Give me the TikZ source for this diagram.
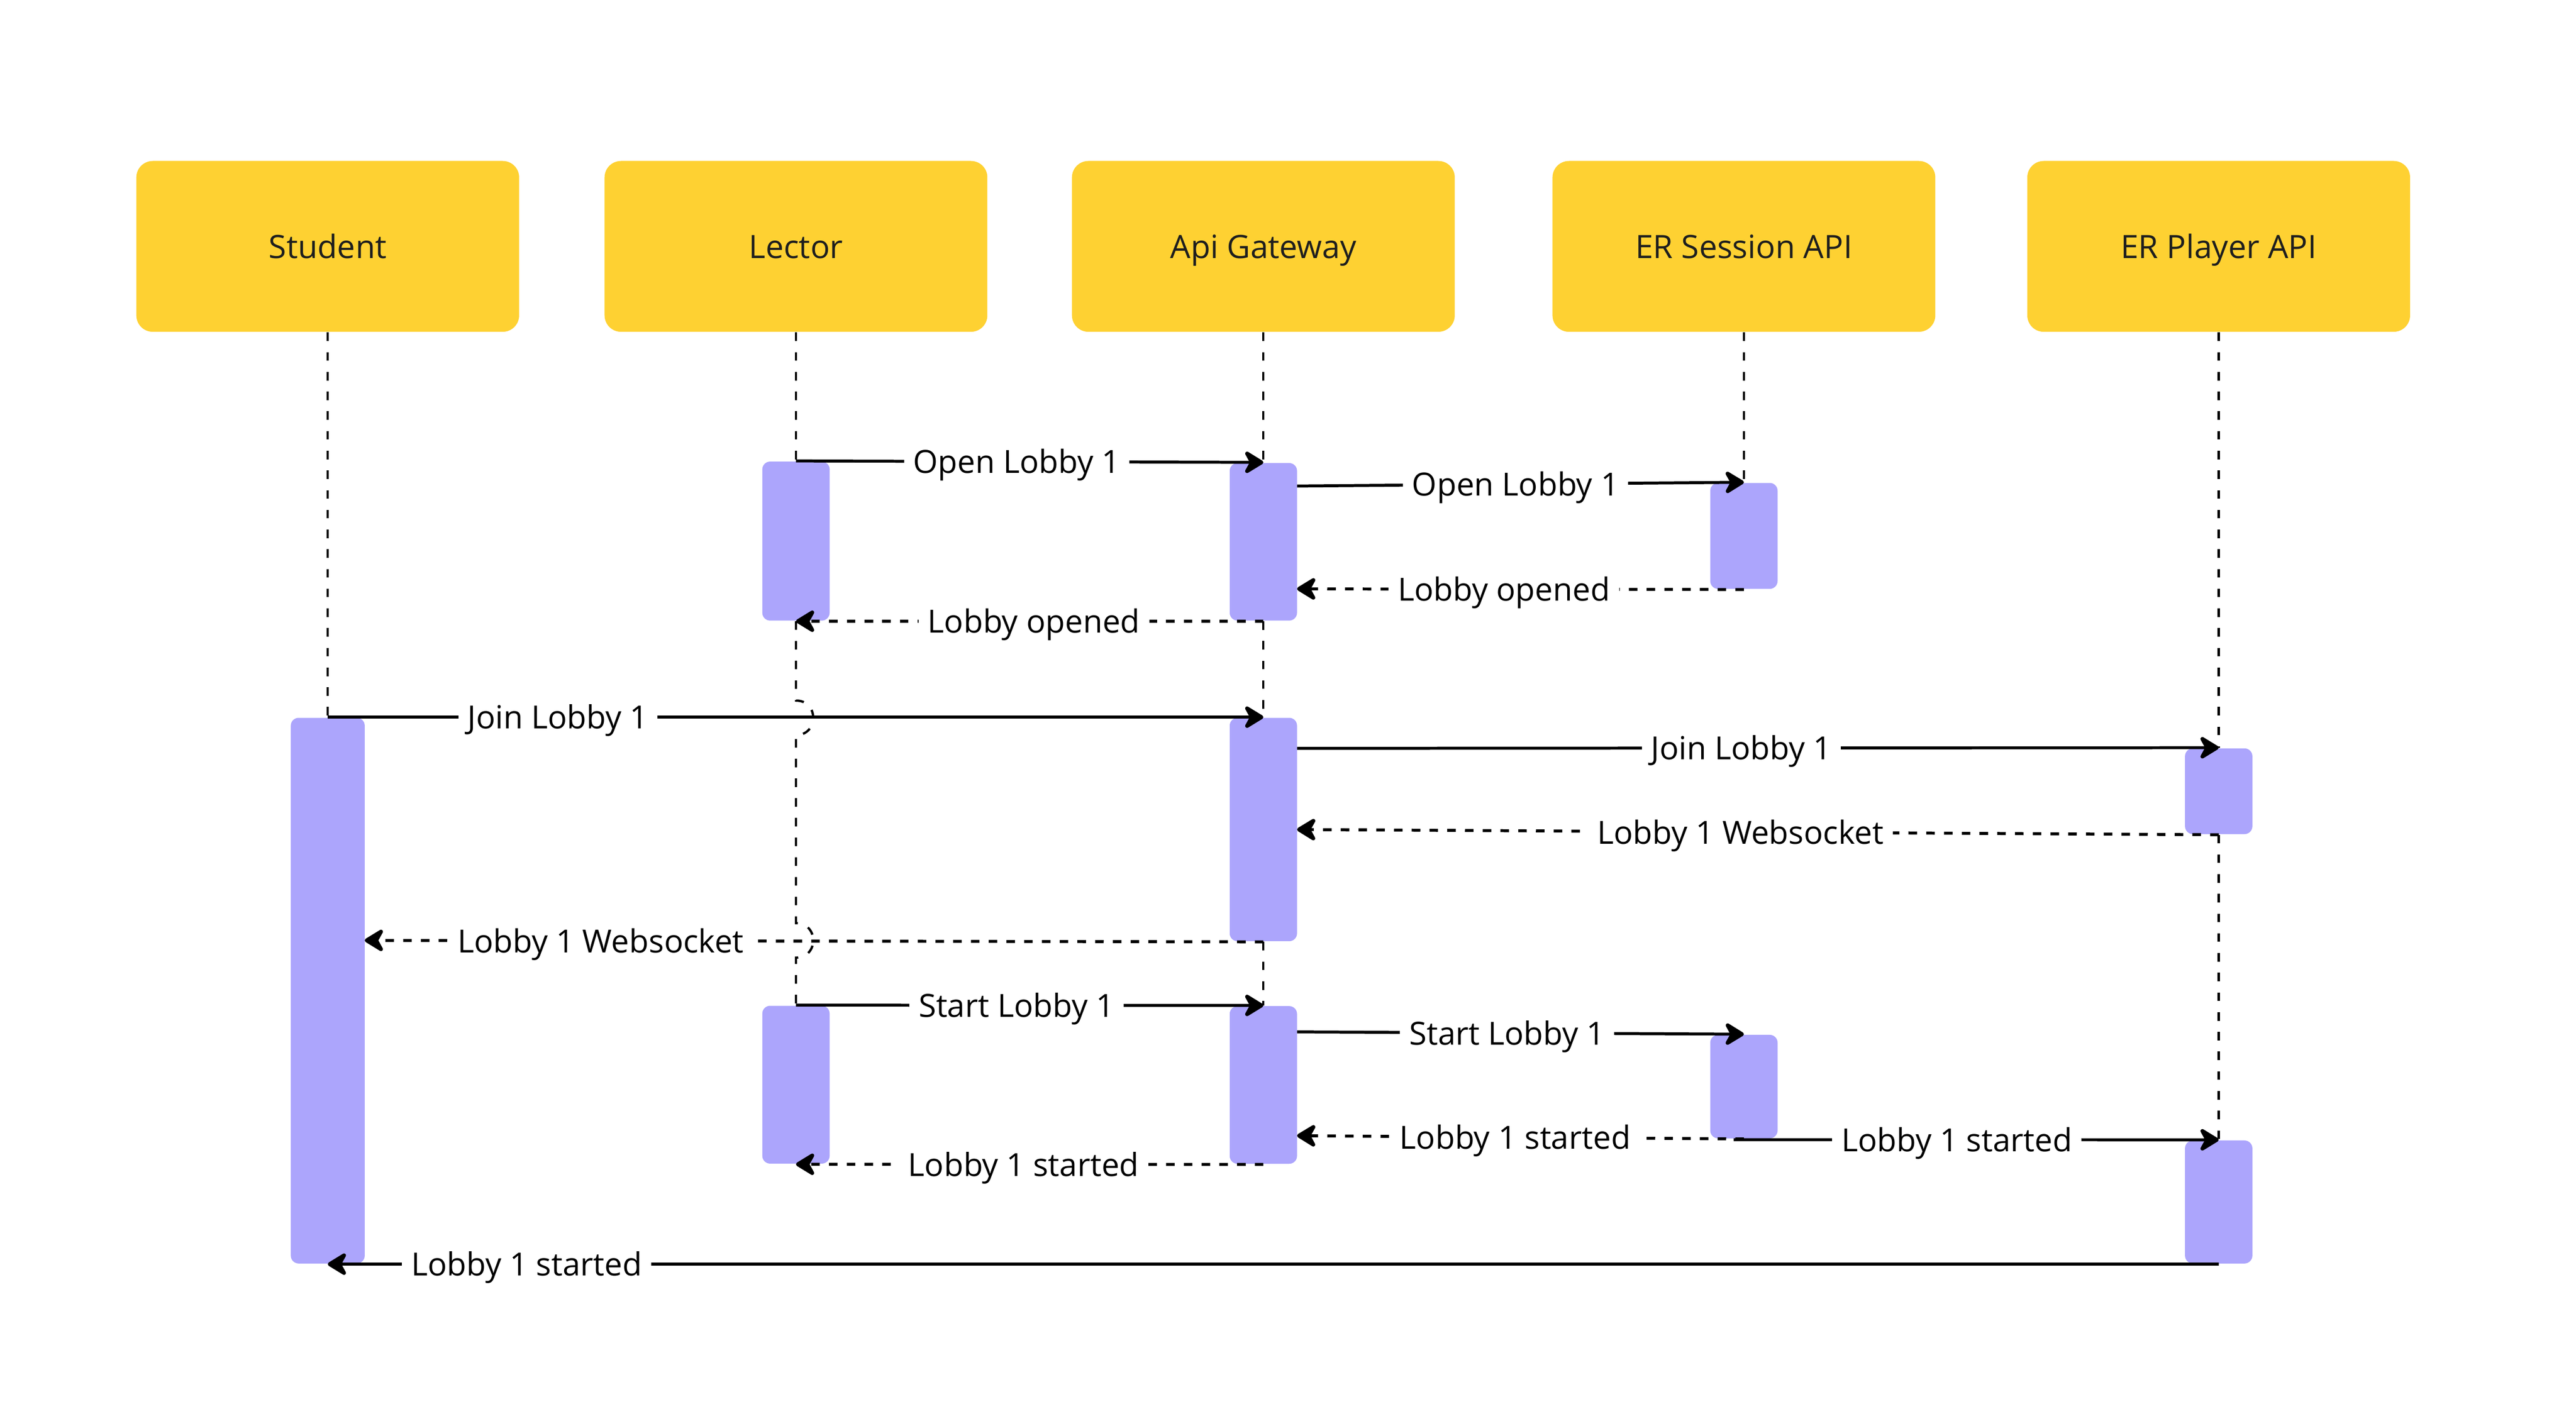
\documentclass[tikz,border=0pt]{standalone}
\usepackage{fontspec}
\setmainfont{Open Sans}
\usetikzlibrary{arrows.meta}
\definecolor{hdr}{RGB}{254,209,50}
\definecolor{actc}{RGB}{172,165,252}
\definecolor{hdrtext}{RGB}{30,30,30}
\begin{document}
\begin{tikzpicture}[x=0.5pt,y=-0.5pt,
  header/.style={fill=hdr, rounded corners=5pt, minimum width=116.5pt, minimum height=52pt, inner sep=0pt, text=hdrtext, text height=0.714em, text depth=0pt, font=\fontsize{9.8pt}{12pt}\selectfont},
  act/.style={fill=actc, rounded corners=2.4pt, minimum width=20.5pt, inner sep=0pt},
  life/.style={line width=0.7pt, dash pattern=on 2.6pt off 3.4pt},
  msg/.style={line width=0.9pt, -{Stealth[length=7pt,width=8.5pt,inset=2.3pt,round,line width=1.3pt]}},
  reply/.style={msg, dash pattern=on 2.6pt off 2.8pt},
  lbl/.style={fill=white, inner xsep=2.8pt, inner ysep=0.8pt, text height=0.714em, text depth=0pt, font=\fontsize{9.7pt}{12pt}\selectfont},
]
\fill[white] (0,0) rectangle (1568,860.7);
\useasboundingbox (0,0) rectangle (1568,860.7);

% headers
\node[header] (stu) at (199.5,150) {Student};
\node[header] (lec) at (484.5,150) {Lector};
\node[header] (api) at (769,150) {Api Gateway};
\node[header] (ses) at (1061.5,150) {ER Session API};
\node[header] (ply) at (1350.5,150) {ER Player API};

% activation boxes
\node[act, minimum width=22.5pt, minimum height=166.1pt] (stuA) at (199.5,603.1) {};
\node[act, minimum height=48.4pt] (lec1) at (484.5,329.4) {};
\node[act, minimum height=48.05pt] (lec2) at (484.5,660.35) {};
\node[act, minimum height=47.95pt] (api1) at (769,329.85) {};
\node[act, minimum height=68pt] (api2) at (769,505) {};
\node[act, minimum height=48pt] (api3) at (769,660.5) {};
\node[act, minimum height=32.25pt] (ses1) at (1061.5,326.25) {};
\node[act, minimum height=31.5pt] (ses2) at (1061.5,661.5) {};
\node[act, minimum height=26.1pt] (ply1) at (1350.5,481.7) {};
\node[act, minimum height=37.45pt] (ply2) at (1350.5,731.75) {};

% lifelines
\draw[life] (stu.south) -- (stuA.north);
\draw[life] (lec.south) -- (lec1.north);
\draw[life] (lec1.south) -- (484.5,426.5) .. controls (498.5,426.5) and (498.5,447.5) .. (484.5,447.5)
  -- (484.5,562) .. controls (498.5,562) and (498.5,583) .. (484.5,583) -- (lec2.north);
\draw[life] (api.south) -- (api1.north);
\draw[life] (api1.south) -- (api2.north);
\draw[life] (api2.south) -- (api3.north);
\draw[life] (ses.south) -- (ses1.north);
\draw[life] (ply.south) -- (ply1.north);
\draw[life] (ply1.south) -- (ply2.north);

% free ends
\coordinate (m2s) at (789.5,295.9);
\coordinate (m3e) at (789.5,358.5);
\coordinate (m6s) at (789.5,455.6);
\coordinate (m7e) at (789.5,505);
\coordinate (m8e) at (222,572.5);
\coordinate (m10s) at (789.5,628.2);
\coordinate (m11e) at (789.5,691.4);
\coordinate (m12s) at (1055.3,693.8);

% messages
\draw[msg] (lec1.north) -- node[lbl, pos=0.472] {Open Lobby 1} (api1.north);
\draw[msg] (m2s) -- node[lbl, pos=0.489] {Open Lobby 1} (ses1.north);
\draw[reply] (ses1.south) -- node[lbl, pos=0.537] {Lobby opened} (m3e);
\draw[reply] (api1.south) -- node[lbl, pos=0.491] {Lobby opened} (lec1.south);
\draw[msg] (stuA.north) -- node[lbl, pos=0.246] {Join Lobby 1} (api2.north);
\draw[msg] (m6s) -- node[lbl, pos=0.482] {Join Lobby 1} (ply1.north);
\draw[reply] (ply1.south) -- node[lbl, pos=0.519] {Lobby 1 Websocket} (m7e);
\draw[reply] (api2.south) -- node[lbl, pos=0.7375] {Lobby 1 Websocket} (m8e);
\draw[msg] (lec2.north) -- node[lbl, pos=0.472] {Start Lobby 1} (api3.north);
\draw[msg] (m10s) -- node[lbl, pos=0.470] {Start Lobby 1} (ses2.north);
\draw[reply] (ses2.south) -- node[lbl, pos=0.512] {Lobby 1 started} (m11e);
\draw[msg] (m12s) -- node[lbl, pos=0.46] {Lobby 1 started} (ply2.north);
\draw[reply] (api3.south) -- node[lbl, pos=0.513] {Lobby 1 started} (lec2.south);
\draw[msg] (ply2.south) -- node[lbl, pos=0.8948] {Lobby 1 started} (stuA.south);
\end{tikzpicture}
\end{document}
